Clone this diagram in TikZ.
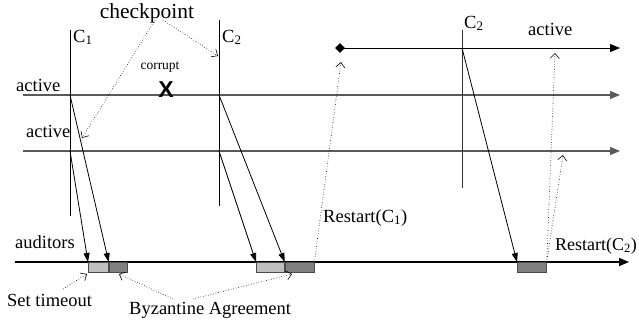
\documentclass[tikz,border=0pt]{standalone}
\usepackage{fontspec}
\setmainfont{Liberation Serif}
\setsansfont{Liberation Sans}
\usetikzlibrary{arrows.meta,shapes.geometric}
\begin{document}
\begin{tikzpicture}[x=1pt,y=-1pt,
  lbl/.style={inner sep=0pt,anchor=base west,font=\fontsize{18.5}{18.5}\selectfont},
  small/.style={inner sep=0pt,anchor=base,font=\fontsize{13.5}{13.5}\selectfont},
  proc/.style={draw=black!65,line width=1.2pt,-{Triangle[length=10pt,width=8pt]}},
  vline/.style={draw=black,line width=0.9pt},
  msg/.style={draw=black,line width=0.8pt,-{Triangle[length=9pt,width=6pt]}},
  note/.style={draw=black,dotted,line width=0.6pt,-{Straight Barb[length=5pt,width=9pt]}},
  tbox/.style={draw=black!70,line width=0.7pt,fill=black!25,minimum height=10pt,inner sep=0pt},
  bbox/.style={draw=black!70,line width=0.7pt,fill=black!50,minimum height=10pt,inner sep=0pt}
]
\useasboundingbox (0,0) rectangle (639,322);
% process lines
\coordinate (p1s) at (23,95); \coordinate (p1e) at (620,95);
\coordinate (p2s) at (23,151); \coordinate (p2e) at (620,151);
\coordinate (p3s) at (340,48); \coordinate (p3e) at (620,48);
\coordinate (as) at (15,262); \coordinate (ae) at (629,262);
\draw[proc] (p1s) -- (p1e);
\draw[proc] (p2s) -- (p2e);
\draw[draw=black,line width=1pt,-{Triangle[length=10pt,width=8pt]}] (p3s) -- (p3e);
\node[diamond,fill=black,inner sep=0pt,minimum size=10pt] (dia) at (p3s) {};
\draw[draw=black,line width=1.6pt,-{Triangle[length=10pt,width=8pt]}] (as) -- (ae);
% boxes
\node[tbox,minimum width=20pt,anchor=north west] (t1) at (88,262) {};
\node[bbox,minimum width=18pt,anchor=north west] (b1) at (t1.north east) {};
\node[tbox,minimum width=28pt,anchor=north west] (t2) at (256,262) {};
\node[bbox,minimum width=29pt,anchor=north west] (b2) at (t2.north east) {};
\node[bbox,minimum width=29pt,anchor=north west] (b3) at (517,262) {};
% checkpoint verticals
\coordinate (c1t) at (70,30); \coordinate (c1b) at (70,216);
\coordinate (c2t) at (219,20); \coordinate (c2b) at (219,206);
\coordinate (c3t) at (462,30); \coordinate (c3b) at (462,188);
\draw[vline] (c1t) -- (c1b);
\draw[vline] (c2t) -- (c2b);
\draw[vline,draw=black!80] (c3t) -- (c3b);
% messages
\coordinate (m11) at (70,95); \coordinate (m12) at (70,151);
\coordinate (m21) at (219,95); \coordinate (m22) at (219,151);
\coordinate (m31) at (462,48);
\draw[msg] (m11) -- (t1.north east);
\draw[msg] (m12) -- (t1.north west);
\draw[msg] (m21) -- (t2.north east);
\draw[msg] (m22) -- (t2.north west);
\draw[msg] (m31) -- (b3.north west);
% labels
\node[lbl] (lc1) at (73,42) {C\textsubscript{1}};
\node[lbl] (lc2) at (222,42) {C\textsubscript{2}};
\node[lbl] (lc3) at (464,28) {C\textsubscript{2}};
\node[lbl,anchor=base,font=\fontsize{21.5}{21.5}\selectfont] (chk) at (147,18) {checkpoint};
\node[small] (cor) at (160,69) {corrupt};
\node[inner sep=0pt,font=\sffamily\bfseries\fontsize{23}{23}\selectfont] (x) at (166,90) {X};
\node[lbl] (a1) at (16,91) {active};
\node[lbl] (a2) at (26,137) {active};
\node[lbl] (a3) at (528,35) {active};
\node[lbl] (aud) at (15,248) {auditors};
\node[lbl] (st) at (7,306) {Set timeout};
\node[lbl] (ba) at (129,314) {Byzantine Agreement};
\node[lbl,font=\fontsize{18}{18}\selectfont] (r2) at (555,250) {Restart(C\textsubscript{2})};
\node[lbl] (r1) at (323,222) {Restart(C\textsubscript{1})};
% dotted notes
\coordinate (k1) at (155,20); \coordinate (k1e) at (82,138);
\coordinate (k2) at (163,20); \coordinate (k2e) at (218,56);
\draw[note] (k1) -- (k1e);
\draw[note] (k2) -- (k2e);
\coordinate (s1) at (63,289); \coordinate (s1e) at (87,274);
\draw[note] (s1) -- (s1e);
\coordinate (z1) at (173,299); \coordinate (z1e) at (119,274);
\coordinate (z2) at (193,299); \coordinate (z2e) at (292,274);
\draw[note] (z1) -- (z1e);
\draw[note] (z2) -- (z2e);
\coordinate (q1e) at (341,62);
\draw[note] (b2.north east) -- (q1e);
\coordinate (q2e) at (555,53); \coordinate (q3e) at (563,155);
\draw[note] (b3.north east) -- (q2e);
\draw[note] (b3.north east) -- (q3e);
\end{tikzpicture}
\end{document}
